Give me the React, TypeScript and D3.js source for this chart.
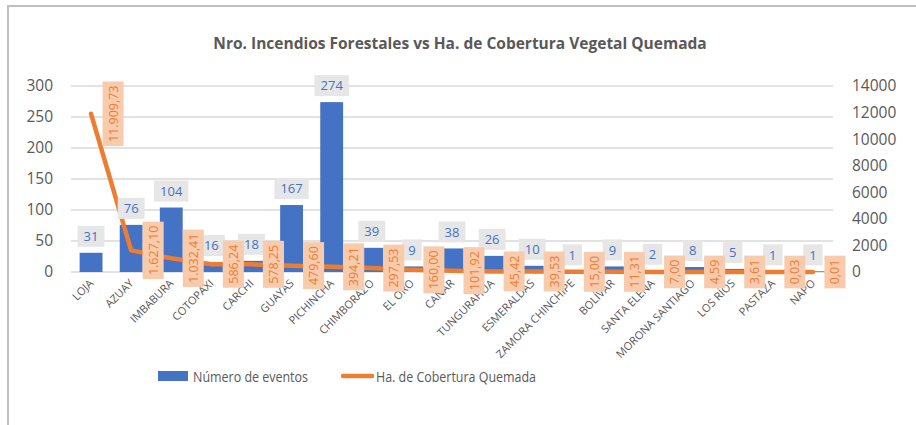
import React, { useEffect, useRef } from 'react';
import * as d3 from 'd3';

const categorias = [
  'LOJA', 'AZUAY', 'IMBABURA', 'COTOPAXI', 'CARCHI', 'GUAYAS', 'PICHINCHA',
  'CHIMBORAZO', 'EL ORO', 'CAÑAR', 'TUNGURAHUA', 'ESMERALDAS', 'ZAMORA CHINCHIPE',
  'BOLÍVAR', 'SANTA ELENA', 'MORONA SANTIAGO', 'LOS RÍOS', 'PASTAZA', 'NAPO'
];
// etiqueta de cada barra
const eventos = [31, 76, 104, 16, 18, 167, 274, 39, 9, 38, 26, 10, 1, 9, 2, 8, 5, 1, 1];
// altura dibujada (GUAYAS aparece más baja que su etiqueta en el original)
const alturaBarra = [31, 76, 104, 16, 18, 108, 274, 39, 9, 38, 26, 10, 1, 9, 2, 8, 5, 1, 1];
const hectareas = [
  11909.73, 1627.1, 1032.41, 586.24, 578.25, 479.6, 394.21, 297.53, 160.0, 101.92,
  45.42, 39.53, 15.0, 11.31, 7.0, 4.59, 3.61, 0.03, 0.01
];
const ticksIzq = [0, 50, 100, 150, 200, 250, 300];
const ticksDer = [0, 2000, 4000, 6000, 8000, 10000, 12000, 14000];

const titulo = 'Nro. Incendios Forestales vs Ha. de Cobertura Vegetal Quemada';
const serie1 = 'Número de eventos';
const serie2 = 'Ha. de Cobertura Quemada';

const fmt = (v: number) => {
  const [ent, dec] = v.toFixed(2).split('.');
  return ent.replace(/\B(?=(\d{3})+(?!\d))/g, '.') + ',' + dec;
};

const FONT = '"Open Sans", sans-serif';
const GRIS = '#595959';
const AZUL = '#4472c4';
const NARANJA = '#ed7d31';

export default function App() {
  const svgRef = useRef<SVGSVGElement>(null);

  useEffect(() => {
    if (!svgRef.current) return;
    const svg = d3.select(svgRef.current);
    svg.selectAll('*').remove();

    const width = 916;
    const height = 425;
    svg.attr('width', width).attr('height', height);

    // marco
    svg.append('path')
      .attr('d', `M8,${height} V6 H${width}`)
      .attr('fill', 'none')
      .attr('stroke', '#c0c0c0')
      .attr('stroke-width', 2);

    svg.append('text')
      .attr('x', 460)
      .attr('y', 49)
      .attr('text-anchor', 'middle')
      .attr('fill', GRIS)
      .attr('font-family', FONT)
      .attr('font-size', '15.5px')
      .attr('font-weight', 'bold')
      .text(titulo);

    const x = d3.scaleBand<string>()
      .domain(categorias)
      .range([71, 833])
      .paddingInner(0.43)
      .paddingOuter(0.215);
    const yL = d3.scaleLinear().domain([0, 300]).range([272, 86]);
    const yR = d3.scaleLinear().domain([0, 14000]).range([272, 86]);
    const cx = (c: string) => (x(c) ?? 0) + x.bandwidth() / 2;

    // grid
    svg.append('g').selectAll('line')
      .data(ticksIzq)
      .join('line')
      .attr('x1', 71)
      .attr('x2', 833)
      .attr('y1', (d) => yL(d))
      .attr('y2', (d) => yL(d))
      .attr('stroke', '#d9d9d9')
      .attr('stroke-width', 1.3);

    svg.append('g').selectAll('text')
      .data(ticksIzq)
      .join('text')
      .attr('x', 53)
      .attr('y', (d) => yL(d))
      .attr('dy', '0.35em')
      .attr('text-anchor', 'end')
      .attr('fill', GRIS)
      .attr('font-family', FONT)
      .attr('font-size', '15.5px')
      .text((d) => d);

    svg.append('g').selectAll('text')
      .data(ticksDer)
      .join('text')
      .attr('x', 852)
      .attr('y', (d) => yR(d))
      .attr('dy', '0.35em')
      .attr('text-anchor', 'start')
      .attr('fill', GRIS)
      .attr('font-family', FONT)
      .attr('font-size', '15.5px')
      .text((d) => d);

    // barras
    svg.append('g').selectAll('rect')
      .data(categorias)
      .join('rect')
      .attr('x', (c) => x(c) ?? 0)
      .attr('y', (c, i) => yL(alturaBarra[i]))
      .attr('width', x.bandwidth())
      .attr('height', (c, i) => yL(0) - yL(alturaBarra[i]))
      .attr('fill', AZUL);

    // línea
    const line = d3.line<number>()
      .x((d, i) => cx(categorias[i]))
      .y((d) => yR(d));
    svg.append('path')
      .datum(hectareas)
      .attr('d', line)
      .attr('fill', 'none')
      .attr('stroke', NARANJA)
      .attr('stroke-width', 4.5)
      .attr('stroke-linejoin', 'round')
      .attr('stroke-linecap', 'round');

    // etiquetas eje x
    svg.append('g').selectAll('text')
      .data(categorias)
      .join('text')
      .attr('transform', (c) => `translate(${cx(c) + 3},${284}) rotate(-45)`)
      .attr('text-anchor', 'end')
      .attr('fill', GRIS)
      .attr('font-family', FONT)
      .attr('font-size', '11px')
      .text((c) => c);

    // etiquetas de barras
    categorias.forEach((c, i) => {
      const g = svg.append('g')
        .attr('transform', `translate(${cx(c)},${yL(alturaBarra[i]) - 6 - 10.5})`);
      const rect = g.append('rect').attr('fill', '#e7e6e6');
      const t = g.append('text')
        .attr('text-anchor', 'middle')
        .attr('dy', '0.36em')
        .attr('fill', AZUL)
        .attr('font-family', FONT)
        .attr('font-size', '13px')
        .text(eventos[i]);
      const w = (t.node() as SVGTextElement).getComputedTextLength() + 12;
      rect.attr('x', -w / 2).attr('y', -10.5).attr('width', w).attr('height', 21);
    });

    // etiquetas de línea
    categorias.forEach((c, i) => {
      const g = svg.append('g')
        .attr('transform', `translate(${cx(c) + 22},${yR(hectareas[i])}) rotate(-90)`);
      const rect = g.append('rect').attr('fill', '#f8cbad');
      const t = g.append('text')
        .attr('text-anchor', 'middle')
        .attr('dy', '0.36em')
        .attr('fill', NARANJA)
        .attr('font-family', FONT)
        .attr('font-size', '12.5px')
        .text(fmt(hectareas[i]));
      const w = (t.node() as SVGTextElement).getComputedTextLength() + 8;
      rect.attr('x', -w / 2).attr('y', -10.5).attr('width', w).attr('height', 21);
    });

    // leyenda
    svg.append('rect')
      .attr('x', 158).attr('y', 371).attr('width', 30).attr('height', 10)
      .attr('fill', AZUL);
    svg.append('text')
      .attr('x', 193).attr('y', 381.5)
      .attr('fill', GRIS)
      .attr('font-family', FONT)
      .attr('font-size', '14.5px')
      .attr('textLength', 115)
      .attr('lengthAdjust', 'spacingAndGlyphs')
      .text(serie1);
    svg.append('line')
      .attr('x1', 343).attr('x2', 372).attr('y1', 376).attr('y2', 376)
      .attr('stroke', NARANJA)
      .attr('stroke-width', 4.5)
      .attr('stroke-linecap', 'round');
    svg.append('text')
      .attr('x', 376).attr('y', 381.5)
      .attr('fill', GRIS)
      .attr('font-family', FONT)
      .attr('font-size', '14.5px')
      .attr('textLength', 160)
      .attr('lengthAdjust', 'spacingAndGlyphs')
      .text(serie2);
  }, []);

  return (
    <svg ref={svgRef} style={{ position: 'absolute', left: 0, top: 0, background: '#fff' }}></svg>
  );
}
